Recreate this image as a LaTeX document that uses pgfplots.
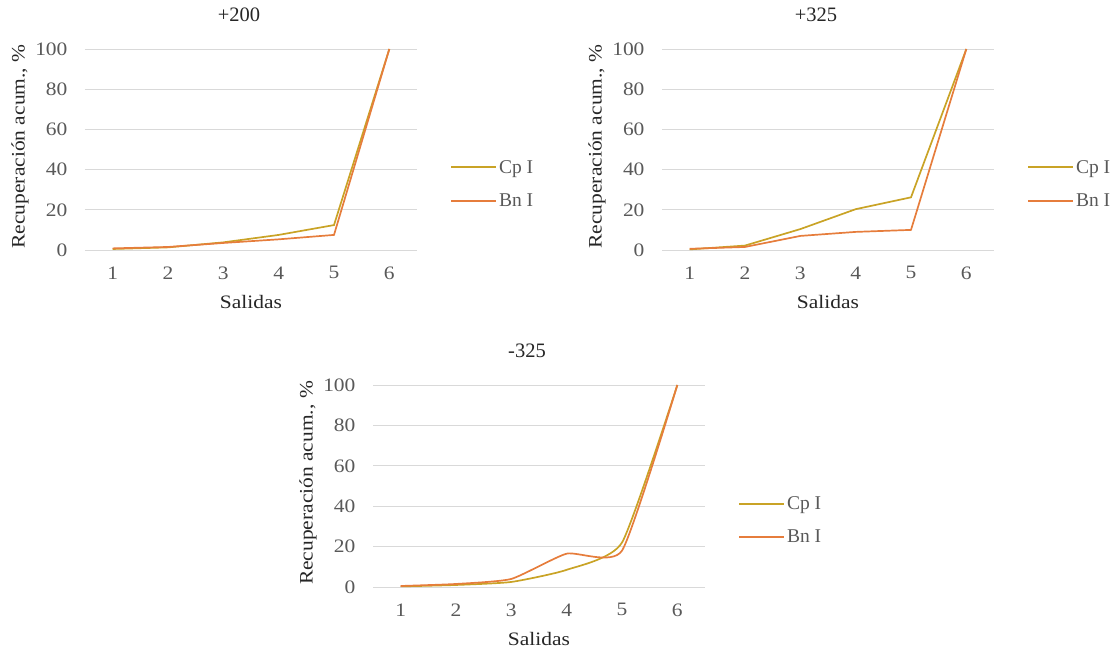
\documentclass[border=0pt]{standalone}
\usepackage{fontspec}
\setmainfont{Liberation Serif}
\newfontfamily\widefont{Liberation Serif}[FakeStretch=1.13]
\usepackage{pgfplots}
\pgfplotsset{compat=1.18}
\definecolor{cpgold}{RGB}{201,163,38}
\definecolor{bnorange}{RGB}{230,125,60}
\definecolor{tickgray}{RGB}{89,89,89}
\definecolor{gridgray}{RGB}{217,217,217}
\definecolor{labdark}{RGB}{38,38,38}
\newcommand{\fs}{\widefont\fontsize{19}{22}\selectfont}
\newcommand{\ft}{\fontsize{20.5}{24}\selectfont}
\newcommand{\fl}{\fontsize{19.5}{23}\selectfont}
\pgfplotsset{
  myaxis/.style={
    scale only axis, width=332pt, height=201pt,
    xmin=0.5, xmax=6.5, ymin=0, ymax=100,
    xtick={1,2,3,4,5,6}, ytick={0,20,40,60,80,100},
    axis line style={draw=none}, major tick length=0pt,
    ymajorgrids, grid style={gridgray, line width=0.9pt},
    /pgf/number format/assume math mode=true,
    tick label style={font=\fs, text=tickgray},
    yticklabel style={xshift=-14pt},
    xticklabel style={yshift=-13pt},
    clip=false,
    xlabel={Salidas}, ylabel={Recuperación acum., \%},
    xlabel style={at={(axis description cs:0.5,0)}, anchor=center, yshift=-52pt, font=\fs, text=labdark},
    ylabel style={at={(axis description cs:0,0.5)}, anchor=center, yshift=65pt, xshift=3pt, font=\fs, text=labdark},
    title style={at={(axis description cs:0.5,1)}, anchor=center, yshift=28pt, xshift=-12pt, font=\ft, text=labdark},
    legend style={at={(axis description cs:1,0.5)}, anchor=west, xshift=30pt, yshift=-34.5pt, draw=none, fill=none, font=\fl, text=tickgray, row sep=15pt, nodes={inner sep=2pt}},
    legend cell align=left,
    legend image code/.code={\draw[#1, line width=1.9pt] (0pt,0pt) -- (45pt,0pt);},
  },
  cp/.style={cpgold, line width=1.7pt},
  bn/.style={bnorange, line width=1.7pt},
}
\begin{document}
\begin{tikzpicture}
\path[use as bounding box] (0pt,0pt) rectangle (1119pt,652pt);
% +200
\begin{axis}[myaxis, at={(85pt,402pt)}, anchor=south west, title={+200}]
\addplot[cp] coordinates {(1,0.5) (2,1.3) (3,3.8) (4,7.5) (5,12.4) (6,100)};
\addlegendentry{Cp I}
\addplot[bn] coordinates {(1,0.8) (2,1.5) (3,3.5) (4,5.3) (5,7.5) (6,100)};
\addlegendentry{Bn I}
\end{axis}
% +325
\begin{axis}[myaxis, at={(662pt,402pt)}, anchor=south west, title={+325}]
\addplot[cp] coordinates {(1,0.3) (2,2.2) (3,10.4) (4,20.3) (5,26.2) (6,100)};
\addlegendentry{Cp I}
\addplot[bn] coordinates {(1,0.6) (2,1.5) (3,7) (4,9) (5,10) (6,100)};
\addlegendentry{Bn I}
\end{axis}
% -325
\begin{axis}[myaxis, at={(373pt,65pt)}, anchor=south west, height=202pt, title={-325}]
\addplot[cp, smooth, tension=0.32] coordinates {(1,0.3) (2,1) (3,2.5) (4,8.5) (5,22) (6,100)};
\addlegendentry{Cp I}
\addplot[bn, smooth, tension=0.32] coordinates {(1,0.5) (2,1.5) (3,4) (4,16.5) (5,18) (6,100)};
\addlegendentry{Bn I}
\end{axis}
\end{tikzpicture}
\end{document}
